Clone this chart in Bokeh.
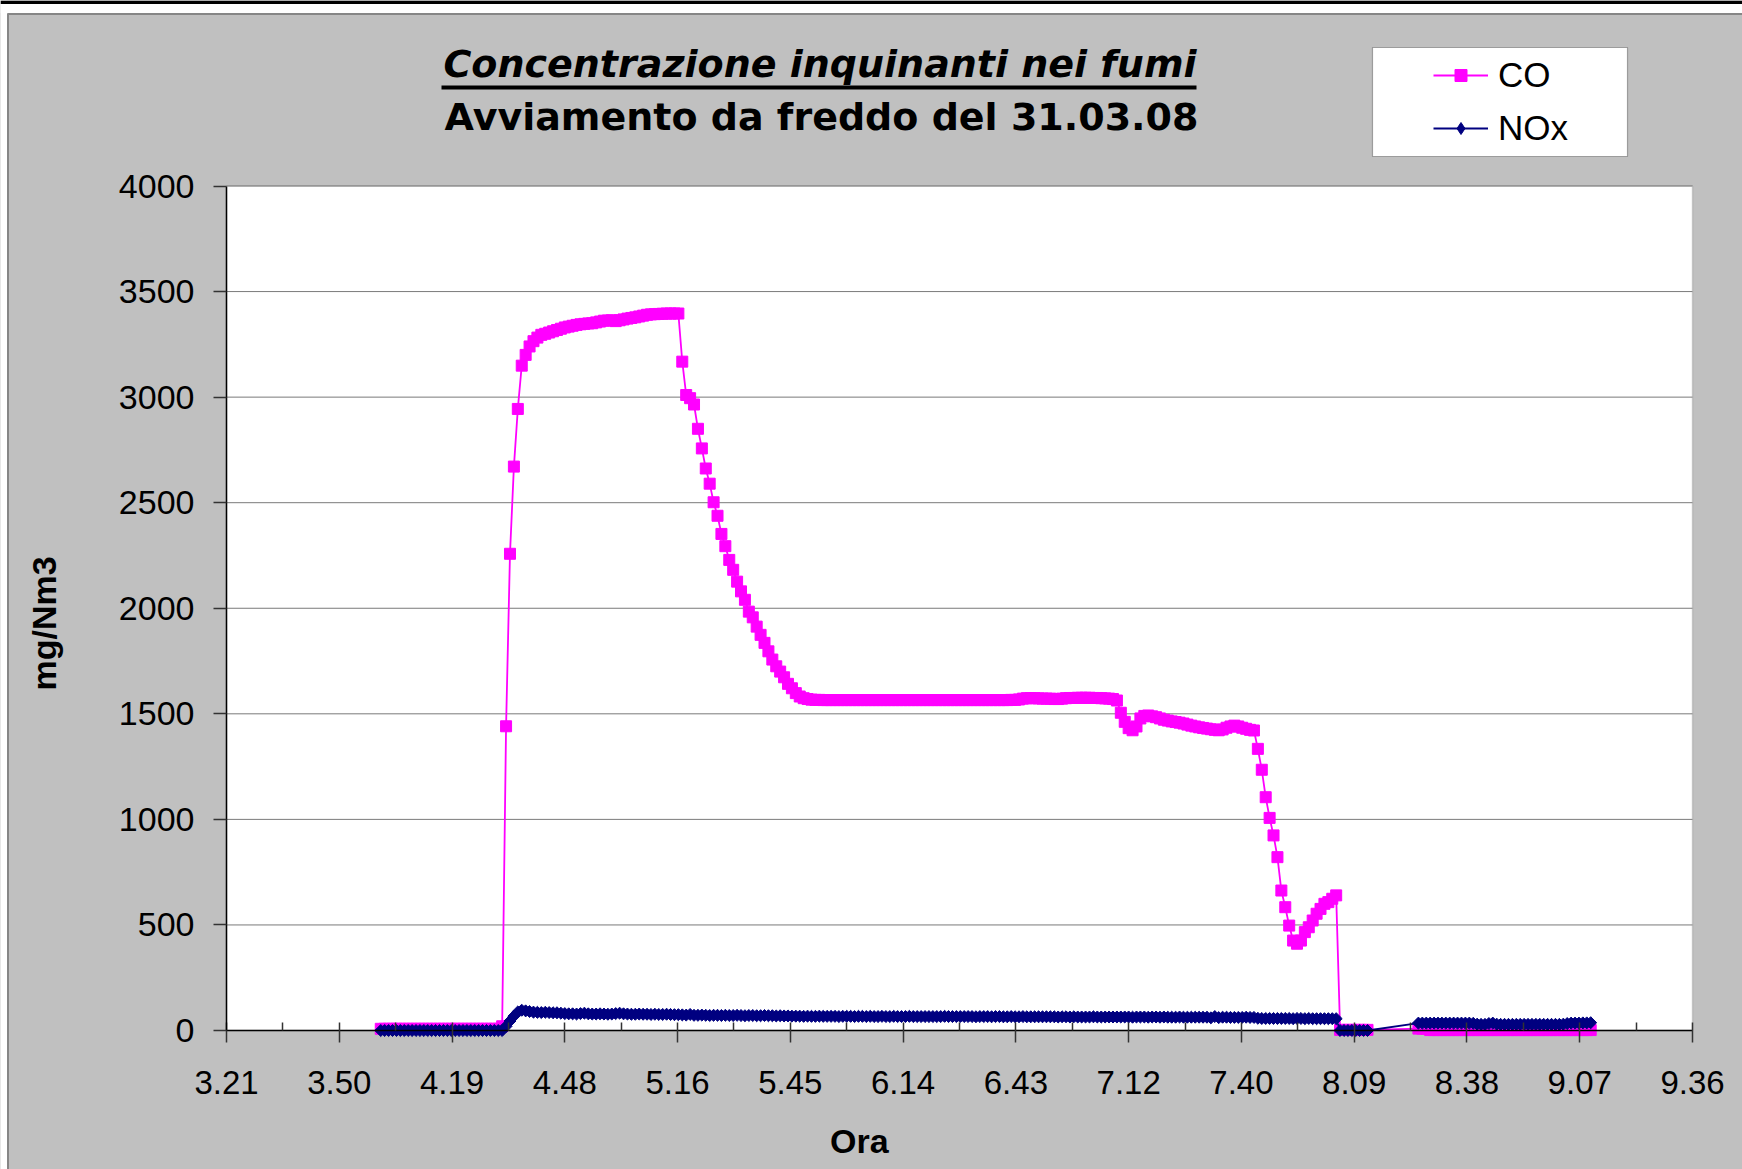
import numpy as np
from bokeh.plotting import figure
from bokeh.models import Range1d, FixedTicker, Label, BoxAnnotation, Legend, LegendItem
from bokeh.embed import file_html
from bokeh.resources import INLINE

# ---------------- data (minutes since midnight, one sample per minute) ----------------
time_a = list(range(241, 494))   # 4:01 ... 8:13
time_b = list(range(506, 551))   # 8:26 ... 9:10 (after a gap in the record)

co_a = [
    8, 8, 8, 8, 8, 8, 8, 8, 8, 8,                                   # 241
    8, 8, 8, 8, 8, 8, 8, 8, 8, 8,                                   # 251
    8, 8, 8, 8, 8, 8, 8, 8, 8, 8,                                   # 261
    8, 20, 1441, 2258, 2671, 2944, 3149, 3200, 3240, 3265,          # 271
    3282, 3295, 3300, 3306, 3312, 3318, 3324, 3330, 3334, 3338,     # 281
    3342, 3345, 3347, 3349, 3350, 3354, 3358, 3362, 3363, 3364,     # 291
    3360, 3364, 3368, 3372, 3375, 3378, 3382, 3386, 3390, 3392,     # 301
    3393, 3394, 3395, 3396, 3396, 3396, 3396, 3168, 3010, 2995,     # 311
    2965, 2850, 2757, 2662, 2590, 2502, 2438, 2352, 2294, 2229,     # 321
    2182, 2126, 2080, 2040, 1984, 1957, 1913, 1874, 1836, 1796,     # 331
    1757, 1725, 1700, 1673, 1642, 1621, 1598, 1582, 1574, 1570,     # 341
    1567, 1566, 1566, 1565, 1565, 1565, 1565, 1565, 1565, 1565,     # 351
    1565, 1565, 1565, 1565, 1565, 1565, 1565, 1565, 1565, 1565,     # 361
    1565, 1565, 1565, 1565, 1565, 1565, 1565, 1565, 1565, 1565,     # 371
    1565, 1565, 1565, 1565, 1565, 1565, 1565, 1565, 1565, 1565,     # 381
    1565, 1565, 1565, 1565, 1565, 1565, 1565, 1565, 1565, 1565,     # 391
    1565, 1566, 1566, 1568, 1572, 1574, 1574, 1574, 1573, 1572,     # 401
    1572, 1572, 1570, 1570, 1572, 1574, 1575, 1575, 1576, 1576,     # 411
    1576, 1576, 1575, 1575, 1574, 1573, 1572, 1570, 1563, 1505,     # 421
    1462, 1432, 1422, 1440, 1478, 1490, 1492, 1488, 1484, 1478,     # 431
    1472, 1468, 1464, 1461, 1458, 1454, 1449, 1444, 1440, 1436,     # 441
    1433, 1430, 1427, 1424, 1422, 1426, 1434, 1440, 1444, 1440,     # 451
    1434, 1429, 1424, 1421, 1334, 1235, 1105, 1007, 924, 821,       # 461
    663, 584, 497, 426, 411, 426, 466, 489, 521, 553,               # 471
    576, 600, 608, 624, 640, 3, 3, 3, 3, 3,                         # 481
    3, 3, 3,                                                        # 491
]

nox_a = [
    0, 0, 0, 0, 0, 0, 0, 0, 0, 0,                                   # 241
    0, 0, 0, 0, 0, 0, 0, 0, 0, 0,                                   # 251
    0, 0, 0, 0, 0, 0, 0, 0, 0, 0,                                   # 261
    0, 0, 20, 45, 68, 88, 96, 93, 90, 87,                           # 271
    86, 85, 86, 85, 84, 84, 82, 80, 79, 79,                         # 281
    78, 80, 82, 79, 78, 78, 79, 78, 77, 78,                         # 291
    80, 82, 79, 78, 77, 77, 78, 77, 77, 76,                         # 301
    77, 76, 76, 77, 76, 75, 75, 74, 73, 76,                         # 311
    72, 72, 73, 72, 71, 72, 72, 71, 72, 71,                         # 321
    71, 72, 71, 70, 71, 71, 70, 70, 71, 70,                         # 331
    70, 69, 70, 69, 69, 68, 68, 68, 67, 68,                         # 341
    67, 67, 68, 67, 67, 67, 67, 66, 67, 67,                         # 351
    67, 66, 67, 67, 66, 67, 66, 66, 67, 66,                         # 361
    66, 67, 66, 66, 66, 67, 66, 66, 66, 66,                         # 371
    66, 66, 66, 66, 67, 66, 66, 66, 66, 66,                         # 381
    66, 66, 65, 66, 66, 66, 65, 66, 66, 65,                         # 391
    65, 66, 65, 65, 66, 65, 65, 65, 65, 65,                         # 401
    65, 65, 65, 64, 65, 65, 64, 65, 64, 64,                         # 411
    64, 64, 65, 64, 64, 64, 64, 64, 64, 64,                         # 421
    64, 64, 63, 64, 64, 64, 63, 64, 64, 63,                         # 431
    64, 63, 63, 63, 64, 63, 63, 63, 63, 63,                         # 441
    63, 63, 60, 66, 61, 63, 63, 62, 62, 62,                         # 451
    62, 63, 62, 62, 58, 57, 57, 57, 57, 57,                         # 461
    57, 57, 57, 56, 57, 57, 56, 57, 56, 56,                         # 471
    56, 56, 56, 56, 56, 0, 0, 0, 0, 0,                              # 481
    0, 0, 0,                                                        # 491
]

co_b = [
    9, 9, 9, 2, 2, 2, 2, 2, 2, 2,                                   # 506
    2, 2, 2, 2, 2, 2, 2, 2, 2, 2,                                   # 516
    2, 2, 2, 2, 2, 2, 2, 2, 2, 2,                                   # 526
    2, 2, 2, 2, 2, 2, 2, 2, 2, 2,                                   # 536
    2, 2, 2, 2, 2,                                                  # 546
]

nox_b = [
    35, 35, 35, 35, 35, 35, 35, 35, 35, 35,                         # 506
    35, 35, 35, 35, 34, 30, 29, 29, 33, 35,                         # 516
    30, 29, 29, 29, 29, 29, 29, 29, 29, 29,                         # 526
    29, 29, 29, 29, 29, 29, 29, 30, 33, 35,                         # 536
    35, 35, 36, 36, 37,                                             # 546
]

x_ticks = [201.6, 230.4, 259.2, 288, 316.8, 345.6, 374.4, 403.2, 432, 460.8,
           489.6, 518.4, 547.2, 576]
x_tick_labels = ["3.21", "3.50", "4.19", "4.48", "5.16", "5.45", "6.14", "6.43",
                 "7.12", "7.40", "8.09", "8.38", "9.07", "9.36"]
x_minor_ticks = [216, 244.8, 273.6, 302.4, 331.2, 360, 388.8, 417.6, 446.4, 475.2,
                 504, 532.8, 561.6]
y_ticks = [0, 500, 1000, 1500, 2000, 2500, 3000, 3500, 4000]

title_1 = "Concentrazione inquinanti nei fumi"
title_2 = "Avviamento da freddo del 31.03.08"
x_title = "Ora"
y_title = "mg/Nm3"

assert len(time_a) == len(co_a) == len(nox_a)
assert len(time_b) == len(co_b) == len(nox_b)
times = time_a + time_b
co = co_a + co_b
nox = nox_a + nox_b

# ---------------- geometry: the frame covers the whole canvas ----------------
W, H = 1742, 1169
X0, X1 = x_ticks[0], x_ticks[-1]          # plot-area x extent (data)
Y0, Y1 = y_ticks[0], y_ticks[-1]          # plot-area y extent (data)
PX_L, PX_R = 226.0, 1692.0                # plot-area pixel edges
PY_T, PY_B = 185.5, 1030.0
SX = (X1 - X0) / (PX_R - PX_L)
SY = (Y1 - Y0) / (PY_B - PY_T)


def X(px):
    return X0 + (px - PX_L) * SX


def Y(py):
    return Y0 + (PY_B - py) * SY


GRAY = "#C0C0C0"
MAG, NAVY = "#FF00FF", "#000080"

p = figure(width=W, height=H, output_backend="svg", toolbar_location=None, title=None,
           x_range=Range1d(X(0), X(W)), y_range=Range1d(Y(H), Y(0)),
           min_border=0, border_fill_color=GRAY, background_fill_color=GRAY,
           outline_line_color=None)

# page decorations (white strip on top, black rule, black chart border)
p.add_layout(BoxAnnotation(bottom=Y(12.5), fill_color="white", fill_alpha=1,
                           line_color=None, level="image"))
p.add_layout(BoxAnnotation(right=X(6.5), fill_color="white", fill_alpha=1,
                           line_color=None, level="image"))
p.add_layout(BoxAnnotation(bottom=Y(3.5), fill_color="black", fill_alpha=1,
                           line_color=None, level="image"))
p.add_layout(BoxAnnotation(left=X(7.5), top=Y(13.5), right=X(W + 20), bottom=Y(H + 20),
                           fill_alpha=0, line_color="black", line_width=2, level="image"))

# plot area
p.add_layout(BoxAnnotation(left=X0, right=X1, bottom=Y0, top=Y1, fill_color="white",
                           fill_alpha=1, line_color="#808080", line_width=1.5, level="image"))

# horizontal gridlines limited to the plot area
p.grid.visible = False
p.segment(x0=[X0] * (len(y_ticks) - 1), x1=[X1] * (len(y_ticks) - 1),
          y0=y_ticks[1:], y1=y_ticks[1:], line_color="#7A7A7A", line_width=1)

xa = p.xaxis[0]
xa.ticker = FixedTicker(ticks=x_ticks, minor_ticks=x_minor_ticks)
xa.major_label_overrides = dict(zip(x_ticks, x_tick_labels))
xa.fixed_location = Y0
xa.bounds = (X0, X1)
xa.axis_line_color = "black"
xa.axis_line_width = 1.5
xa.major_tick_in = 8
xa.major_tick_out = 12
xa.minor_tick_in = 8
xa.minor_tick_out = 0
xa.major_tick_line_color = "#333333"
xa.minor_tick_line_color = "#333333"
xa.major_tick_line_width = 1.5
xa.minor_tick_line_width = 1.5
xa.major_label_standoff = 28
xa.major_label_text_font = "Liberation Sans"
xa.major_label_text_font_size = "33px"
xa.major_label_text_color = "black"

ya = p.yaxis[0]
ya.ticker = FixedTicker(ticks=y_ticks, minor_ticks=[])
ya.fixed_location = X0
ya.bounds = (Y0, Y1)
ya.axis_line_color = "black"
ya.axis_line_width = 1.5
ya.major_tick_in = 0
ya.major_tick_out = 13
ya.minor_tick_in = 0
ya.minor_tick_out = 0
ya.major_tick_line_color = "#333333"
ya.major_tick_line_width = 1.5
ya.major_label_standoff = 19
ya.major_label_text_font = "Liberation Sans"
ya.major_label_text_font_size = "34px"
ya.major_label_text_color = "black"

# ---------------- series ----------------
co_line = p.line(times, co, line_color=MAG, line_width=1.8)
co_pts = p.scatter(times, co, marker="square", size=11, fill_color=MAG, line_color=MAG, line_width=1)
nox_line = p.line(times, nox, line_color=NAVY, line_width=1.8)
nox_pts = p.scatter(times, nox, marker="square", angle=np.pi / 4, size=8.5,
                    fill_color=NAVY, line_color=NAVY, line_width=1)
# legend key for NOx (legend markers are drawn unrotated, so use a diamond key);
# it holds a single missing value so nothing is drawn in the plot itself
nox_key = p.scatter(x=[np.nan], y=[np.nan], marker="diamond", size=12, fill_color=NAVY,
                    line_color=NAVY, line_width=1)

# ---------------- titles ----------------
p.add_layout(Label(x=X(819.5), y=Y(63.6), text=title_1,
                   text_align="center", text_baseline="middle",
                   text_font="DejaVu Sans", text_font_style="bold italic",
                   text_font_size="38px", text_color="black"))
p.add_layout(BoxAnnotation(left=X(441), right=X(1196), top=Y(85), bottom=Y(89),
                           fill_color="black", fill_alpha=1, line_color=None))
p.add_layout(Label(x=X(821), y=Y(116.2), text=title_2,
                   text_align="center", text_baseline="middle",
                   text_font="DejaVu Sans", text_font_style="bold",
                   text_font_size="38px", text_color="black"))

# axis titles
p.add_layout(Label(x=X(858.8), y=Y(1140.9), text=x_title,
                   text_align="center", text_baseline="middle",
                   text_font="Liberation Sans", text_font_style="bold",
                   text_font_size="34px", text_color="black"))
p.add_layout(Label(x=X(43), y=Y(623), text=y_title,
                   angle=np.pi / 2, text_align="center", text_baseline="middle",
                   text_font="Liberation Sans", text_font_style="bold",
                   text_font_size="34px", text_color="black"))

# ---------------- legend ----------------
p.add_layout(BoxAnnotation(left=X(1372), right=X(1627), top=Y(47), bottom=Y(156),
                           fill_color="white", fill_alpha=1, line_color="black", line_width=1.2))
legend = Legend(items=[LegendItem(label="CO", renderers=[co_line, co_pts]),
                       LegendItem(label="NOx", renderers=[nox_line, nox_key])],
                location=(1433, H - 148.5), padding=0, margin=0, spacing=11,
                label_height=42, glyph_height=30, glyph_width=55, label_standoff=10,
                label_text_font="Liberation Sans", label_text_font_size="35px",
                label_text_color="black", background_fill_alpha=0, border_line_color=None)
p.add_layout(legend)

open("out.html", "w").write(file_html(p, INLINE))
